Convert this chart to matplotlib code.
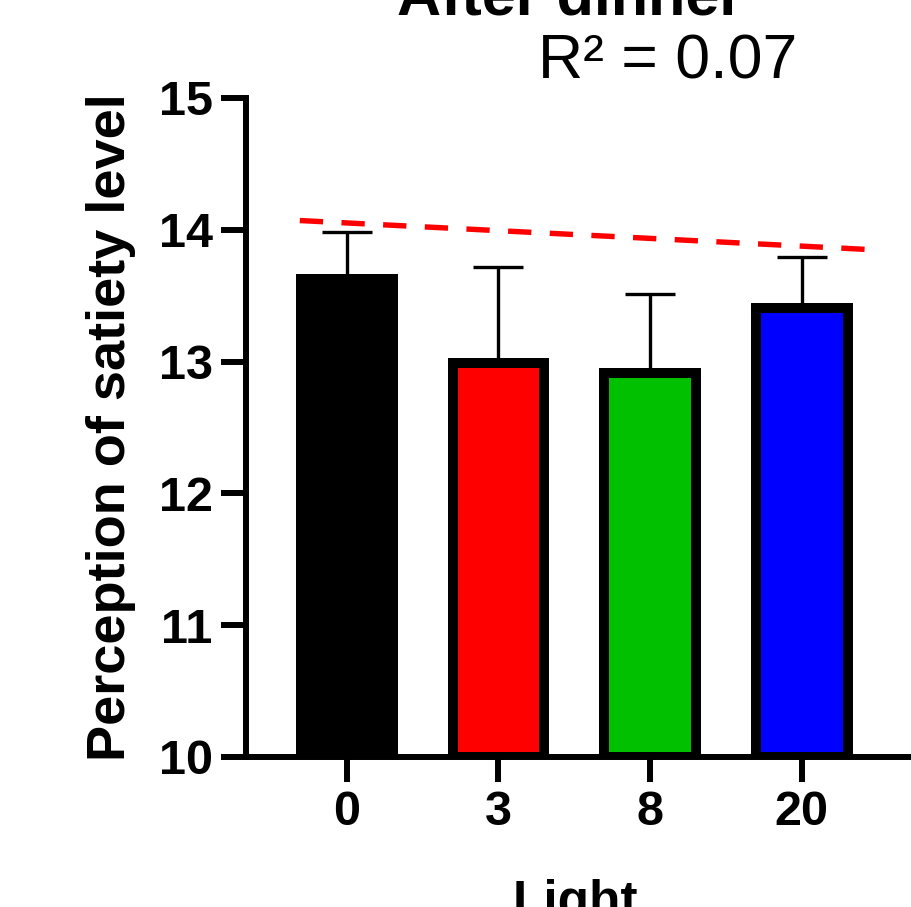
import matplotlib.pyplot as plt
import numpy as np

plt.rcParams['font.family'] = ['Liberation Sans', 'DejaVu Sans']

categories = ["0", "3", "8", "20"]
means = [13.63, 12.99, 12.91, 13.41]
err_upper = [0.35, 0.73, 0.60, 0.38]
bar_colors = ["#000000", "#ff0000", "#00c000", "#0000ff"]

# regression line (drawn across the category axis)
fit_x = [-0.31, 3.44]
fit_y = [14.07, 13.85]
r2_text = "R² = 0.07"

fig = plt.figure(figsize=(9.12, 9.07), dpi=100)
ax = fig.add_axes([0.2697, 0.1654, 0.7259, 0.7266])

x = np.arange(len(categories))
yerr = [np.zeros(len(means)), err_upper]
ax.errorbar(x, means, yerr=yerr, fmt='none', ecolor='black', elinewidth=2.4,
            capsize=18, capthick=2.4, zorder=2)
ax.bar(x, [m - 10 for m in means], bottom=10, width=0.606, color=bar_colors,
       edgecolor='black', linewidth=7.2, zorder=3)

ax.plot(fit_x, fit_y, color='#ff0000', lw=3.9, ls=(0, (4.3, 3.4)), zorder=4)

ax.set_xlim(-0.665, 3.70)
ax.set_ylim(10, 15)
ax.set_yticks([10, 11, 12, 13, 14, 15])
ax.set_xticks(x)
ax.set_xticklabels(categories)

for s in ['top', 'right']:
    ax.spines[s].set_visible(False)
for s in ['left', 'bottom']:
    ax.spines[s].set_linewidth(4.3)
ax.tick_params(width=4.3, length=18, labelsize=35, pad=6)
for lab in ax.get_xticklabels() + ax.get_yticklabels():
    lab.set_fontweight('bold')

ax.set_ylabel("Perception of satiety level", fontsize=39, fontweight='bold', labelpad=16)
fig.text(0.6305, -0.011, "Light", fontsize=37, fontweight='bold', ha='center', va='baseline')

ax.text(0.490, 1.126, "After dinner", transform=ax.transAxes, fontsize=44,
        fontweight='bold', ha='center', va='baseline')
ax.text(0.637, 1.030, r2_text, transform=ax.transAxes, fontsize=45,
        ha='center', va='baseline')

fig.savefig("out.png", dpi=100)
